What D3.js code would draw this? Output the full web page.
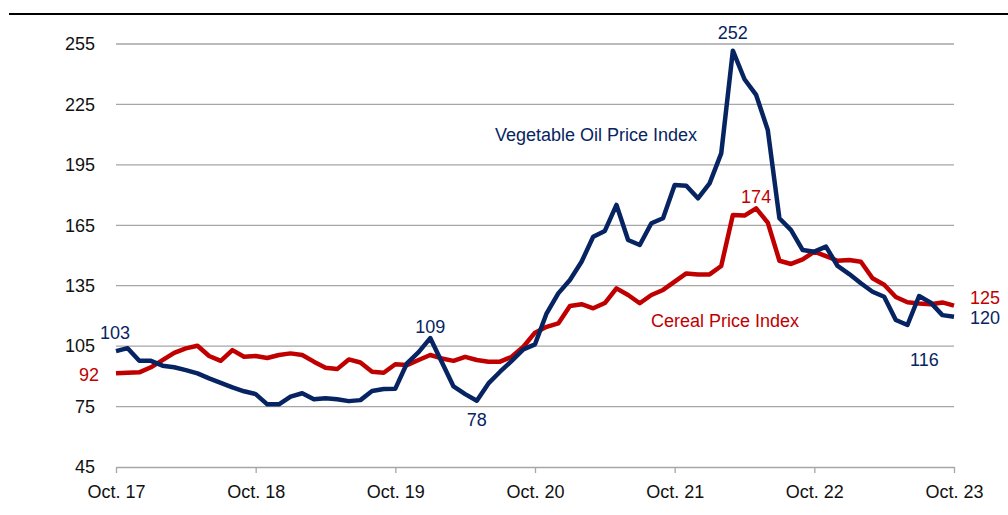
<!DOCTYPE html>
<html>
<head>
<meta charset="utf-8">
<script src="https://cdn.jsdelivr.net/npm/d3@7"></script>
<style>
  html, body { margin: 0; padding: 0; background: #fff; }
  svg { display: block; font-family: "Liberation Sans", Arial, sans-serif; }
</style>
</head>
<body>
<svg id="chart" width="1008" height="515"></svg>
<script>
// Monthly data, Oct 2017 .. Oct 2023
const xTickLabels = ["Oct. 17", "Oct. 18", "Oct. 19", "Oct. 20", "Oct. 21", "Oct. 22", "Oct. 23"];
const yTicks = [45, 75, 105, 135, 165, 195, 225, 255];

const vegOil = [
  102.5, 104, 97.7, 97.7, 95.3, 94.5, 93.1, 91.5, 89, 86.8, 84.5, 82.6,
  81.2, 76.1, 76.1, 79.9, 81.6, 78.6, 79.1, 78.6, 77.7, 78.2, 82.7, 83.7,
  83.9, 96.5, 102, 109, 97, 85, 81.2, 77.9, 86.5, 92.3, 97.7, 103.4,
  105.9, 121.3, 131.2, 137.8, 146.9, 159.3, 162.2, 175.1, 157.7, 155.2, 166, 168.5,
  185, 184.6, 178.4, 185.8, 200.7, 251.7, 237.5, 229.7, 212.3, 168.5, 162.6, 152.7,
  151.9, 154.4, 144.8, 140.8, 136.2, 132, 129.5, 118, 115.5, 129.9, 126.6, 120.4,
  119.6
];
const cereal = [
  91.5, 91.8, 92, 94.5, 98.1, 101.7, 103.9, 105.2, 100.1, 97.7, 103, 99.7,
  100.1, 99.1, 100.6, 101.4, 100.6, 97.3, 94.3, 93.6, 98.4, 96.9, 92.3, 91.8,
  96, 95.6, 98.1, 100.6, 98.9, 97.7, 99.7, 98.1, 97.3, 97.3, 99.7, 104.7,
  111.7, 114.6, 116.3, 124.9, 125.8, 123.8, 126.4, 133.7, 130.4, 126.3, 130.4, 132.9,
  137, 141.1, 140.6, 140.6, 144.8, 170.1, 169.8, 173.4, 166.3, 147.4, 145.8, 148.1,
  151.9, 149.7, 147.4, 147.8, 146.9, 138.7, 135.5, 129.4, 126.8, 126.2, 125.8, 126.7,
  125.1
];

// annotations: [index, text, dx, dy, anchor]
const vegLabels = [
  [0, "103", -1, -18, "middle"],
  [27, "109", 0, -11, "middle"],
  [31, "78", 0, 19, "middle"],
  [53, "252", 0, -18, "middle"],
  [68, "116", 17, 35, "middle"],
  [72, "120", 16, 1, "start"]
];
const cerealLabels = [
  [0, "92", -27, 1, "middle"],
  [55, "174", 0, -12, "middle"],
  [72, "125", 16, -8, "start"]
];

const BLUE = "#072462";
const RED = "#c00000";
const GRID = "#a6a6a6";
const FS = 18;

const svg = d3.select("#chart");
const mLeft = 116, mRight = 954, mTop = 44, mBottom = 467;

const x = d3.scaleLinear().domain([0, vegOil.length - 1]).range([mLeft, mRight]);
const y = d3.scaleLinear().domain([45, 255]).range([mBottom, mTop]);

// top rule
svg.append("line").attr("x1", 9).attr("x2", 1008).attr("y1", 14).attr("y2", 14)
  .attr("stroke", "#000").attr("stroke-width", 2);

// gridlines
svg.append("g").selectAll("line").data(yTicks.filter(d => d !== 45)).join("line")
  .attr("x1", mLeft).attr("x2", mRight)
  .attr("y1", d => y(d)).attr("y2", d => y(d))
  .attr("stroke", GRID).attr("stroke-width", 1.3);

// y labels
svg.append("g").selectAll("text").data(yTicks).join("text")
  .attr("x", 95).attr("y", d => y(d)).attr("dy", "0.35em")
  .attr("text-anchor", "end").attr("font-size", FS).attr("fill", "#111")
  .text(d => d);

// x axis
const xAxis = d3.axisBottom(x)
  .tickValues(d3.range(0, vegOil.length, 12))
  .tickFormat((d, i) => xTickLabels[i])
  .tickSize(6).tickSizeOuter(0);
const gx = svg.append("g").attr("transform", `translate(0,${mBottom})`).call(xAxis);
gx.select(".domain").attr("stroke", GRID).attr("stroke-width", 1.3);
gx.selectAll(".tick line").attr("stroke", GRID).attr("stroke-width", 1.3);
gx.selectAll(".tick text").attr("font-size", FS).attr("fill", "#111")
  .attr("font-family", "Liberation Sans, Arial, sans-serif").attr("y", 18);

// lines
const line = d3.line().x((d, i) => x(i)).y(d => y(d));
svg.append("path").datum(cereal).attr("d", line)
  .attr("fill", "none").attr("stroke", RED).attr("stroke-width", 4.5).attr("stroke-linejoin", "round");
svg.append("path").datum(vegOil).attr("d", line)
  .attr("fill", "none").attr("stroke", BLUE).attr("stroke-width", 4.5).attr("stroke-linejoin", "round");

// value labels
function addLabels(series, labels, color) {
  svg.append("g").selectAll("text").data(labels).join("text")
    .attr("x", d => x(d[0]) + d[2])
    .attr("y", d => y(series[d[0]]) + d[3])
    .attr("dy", "0.35em")
    .attr("text-anchor", d => d[4])
    .attr("font-size", FS).attr("fill", color)
    .text(d => d[1]);
}
addLabels(vegOil, vegLabels, BLUE);
addLabels(cereal, cerealLabels, RED);

// series names
svg.append("text").attr("x", 495).attr("y", 135).attr("dy", "0.35em")
  .attr("font-size", FS).attr("fill", BLUE).text("Vegetable Oil Price Index");
svg.append("text").attr("x", 651).attr("y", 321).attr("dy", "0.35em")
  .attr("font-size", FS).attr("fill", RED).text("Cereal Price Index");
</script>
</body>
</html>
